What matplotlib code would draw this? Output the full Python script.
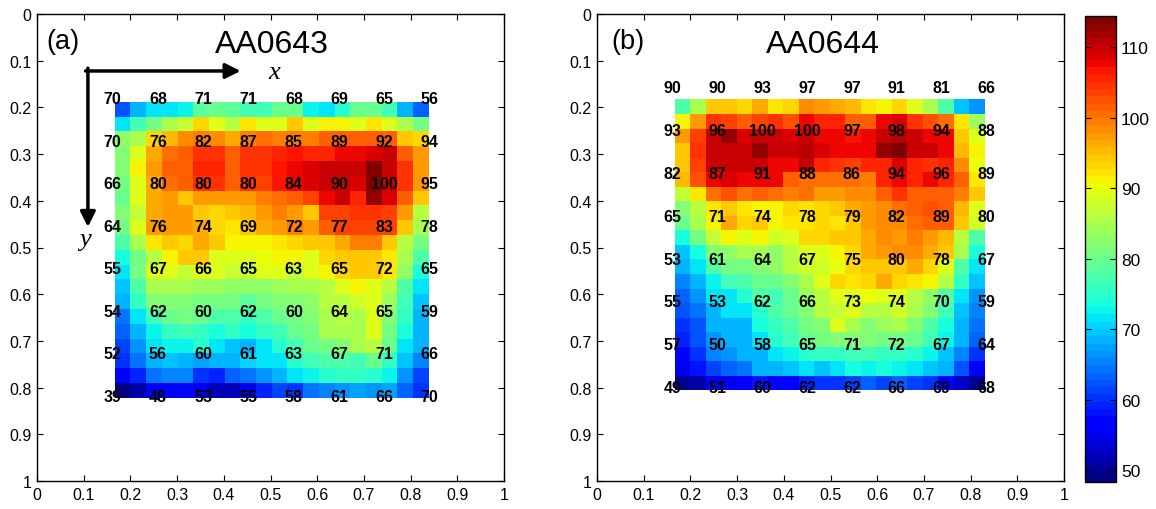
import numpy as np
import matplotlib
matplotlib.use("Agg")
import matplotlib.pyplot as plt

plt.rcParams['font.family'] = ['Liberation Sans', 'DejaVu Sans']

# ---- data: colour field (20x20) ----
grid_a = [
    [62, 68, 72, 72, 73, 79, 80, 79, 77, 77, 80, 80, 73, 72, 75, 80, 80, 77, 68, 63],
    [72, 77, 81, 85, 87, 93, 89, 86, 92, 89, 89, 94, 89, 91, 91, 89, 92, 89, 85, 81],
    [83, 85, 93, 95, 98, 99, 98, 96, 99, 100, 99, 99, 99, 101, 101, 101, 101, 101, 94, 93],
    [82, 89, 96, 100, 102, 105, 105, 102, 105, 105, 106, 107, 106, 106, 108, 108, 109, 110, 101, 97],
    [82, 91, 97, 101, 102, 106, 106, 102, 105, 105, 107, 108, 109, 110, 110, 110, 114, 110, 105, 97],
    [81, 89, 96, 100, 101, 105, 105, 102, 105, 104, 107, 108, 109, 110, 110, 109, 114, 110, 105, 97],
    [80, 89, 96, 97, 94, 97, 97, 97, 97, 99, 100, 102, 104, 108, 110, 106, 113, 109, 101, 94],
    [82, 87, 96, 97, 97, 94, 93, 94, 95, 97, 99, 97, 94, 104, 104, 105, 105, 104, 97, 86],
    [81, 89, 97, 97, 97, 96, 93, 92, 94, 96, 97, 99, 97, 102, 104, 104, 104, 104, 94, 85],
    [78, 85, 92, 94, 93, 96, 94, 91, 91, 91, 92, 93, 94, 94, 96, 99, 99, 94, 86, 81],
    [74, 81, 86, 91, 94, 94, 89, 89, 89, 90, 91, 91, 89, 93, 94, 94, 94, 92, 85, 78],
    [72, 81, 89, 89, 87, 89, 89, 87, 87, 89, 89, 87, 89, 91, 93, 94, 94, 92, 83, 74],
    [70, 78, 85, 85, 85, 84, 84, 83, 83, 83, 84, 85, 85, 86, 89, 91, 89, 86, 78, 72],
    [68, 76, 82, 82, 82, 81, 81, 81, 79, 81, 82, 82, 83, 86, 86, 88, 89, 84, 77, 70],
    [64, 72, 77, 80, 81, 80, 78, 78, 76, 78, 80, 81, 82, 85, 86, 85, 89, 82, 76, 69],
    [63, 68, 73, 76, 77, 76, 74, 76, 74, 76, 77, 80, 81, 85, 85, 85, 89, 81, 74, 68],
    [61, 66, 72, 73, 73, 75, 72, 70, 69, 72, 75, 77, 80, 81, 82, 85, 86, 80, 72, 68],
    [60, 64, 69, 70, 69, 67, 68, 68, 71, 72, 72, 75, 77, 78, 78, 77, 80, 76, 70, 65],
    [56, 59, 64, 65, 65, 60, 59, 63, 64, 66, 69, 72, 73, 75, 76, 76, 75, 73, 66, 61],
    [49, 51, 56, 56, 57, 55, 52, 52, 55, 59, 61, 60, 64, 65, 66, 67, 66, 67, 63, 60],
]

grid_b = [
    [78, 85, 94, 94, 93, 96, 92, 93, 98, 97, 96, 95, 92, 91, 93, 89, 85, 78, 70, 66],
    [91, 97, 105, 104, 102, 104, 105, 103, 108, 106, 106, 102, 101, 108, 109, 105, 103, 100, 92, 84],
    [97, 104, 110, 113, 109, 110, 110, 109, 110, 108, 108, 107, 108, 110, 111, 110, 108, 108, 94, 89],
    [94, 105, 110, 110, 110, 113, 110, 110, 111, 109, 108, 108, 108, 113, 114, 110, 110, 108, 95, 91],
    [94, 104, 110, 110, 110, 110, 108, 108, 110, 106, 105, 104, 106, 106, 109, 106, 105, 106, 98, 90],
    [95, 103, 108, 109, 108, 108, 108, 101, 100, 100, 100, 100, 99, 106, 108, 106, 108, 106, 101, 92],
    [87, 92, 100, 103, 100, 102, 100, 99, 100, 97, 97, 98, 98, 101, 105, 102, 102, 101, 99, 94],
    [82, 86, 92, 94, 92, 91, 91, 93, 92, 93, 94, 96, 97, 98, 100, 101, 103, 102, 95, 89],
    [80, 85, 91, 96, 93, 94, 91, 92, 92, 93, 92, 94, 97, 98, 98, 100, 101, 101, 94, 88],
    [74, 81, 87, 91, 89, 91, 88, 89, 93, 93, 94, 94, 96, 98, 97, 99, 97, 95, 86, 78],
    [70, 74, 82, 83, 85, 85, 83, 86, 89, 89, 91, 93, 96, 97, 98, 98, 96, 94, 85, 74],
    [69, 72, 78, 81, 81, 82, 83, 86, 88, 88, 90, 93, 94, 94, 94, 96, 93, 89, 78, 72],
    [65, 69, 73, 77, 78, 80, 80, 82, 85, 89, 93, 92, 93, 96, 93, 92, 91, 86, 76, 70],
    [63, 66, 72, 72, 75, 78, 77, 80, 84, 86, 89, 89, 90, 89, 89, 86, 83, 78, 72, 66],
    [62, 64, 68, 72, 72, 75, 78, 80, 82, 86, 87, 89, 86, 86, 88, 85, 82, 77, 70, 65],
    [60, 62, 68, 69, 69, 74, 76, 78, 81, 82, 89, 85, 82, 84, 85, 82, 78, 74, 68, 64],
    [59, 62, 66, 68, 69, 72, 75, 77, 80, 81, 82, 82, 82, 81, 81, 80, 77, 73, 68, 63],
    [57, 60, 65, 66, 68, 69, 72, 73, 75, 76, 76, 77, 77, 76, 76, 75, 73, 70, 65, 60],
    [55, 58, 61, 63, 64, 69, 69, 70, 72, 70, 72, 74, 73, 74, 73, 72, 70, 68, 62, 56],
    [50, 51, 55, 55, 56, 58, 56, 57, 59, 60, 60, 61, 63, 61, 63, 61, 60, 56, 53, 50],
]

# ---- data: annotated values (8x8) ----
labels_a = [
    [70, 68, 71, 71, 68, 69, 65, 56],
    [70, 76, 82, 87, 85, 89, 92, 94],
    [66, 80, 80, 80, 84, 90, 100, 95],
    [64, 76, 74, 69, 72, 77, 83, 78],
    [55, 67, 66, 65, 63, 65, 72, 65],
    [54, 62, 60, 62, 60, 64, 65, 59],
    [52, 56, 60, 61, 63, 67, 71, 66],
    [39, 48, 53, 55, 58, 61, 66, 70],
]
labels_b = [
    [90, 90, 93, 97, 97, 91, 81, 66],
    [93, 96, 100, 100, 97, 98, 94, 88],
    [82, 87, 91, 88, 86, 94, 96, 89],
    [65, 71, 74, 78, 79, 82, 89, 80],
    [53, 61, 64, 67, 75, 80, 78, 67],
    [55, 53, 62, 66, 73, 74, 70, 59],
    [57, 50, 58, 65, 71, 72, 67, 64],
    [49, 51, 60, 62, 62, 66, 69, 68],
]

titles = ["AA0643", "AA0644"]
panel_tags = ["(a)", "(b)"]
tick_vals = [0, 0.1, 0.2, 0.3, 0.4, 0.5, 0.6, 0.7, 0.8, 0.9, 1]
tick_text = ["0", "0.1", "0.2", "0.3", "0.4", "0.5", "0.6", "0.7", "0.8", "0.9", "1"]
cbar_ticks = [50, 60, 70, 80, 90, 100, 110]
vmin, vmax = 48.4, 114.4

cmap = plt.get_cmap('jet', 64)

fig = plt.figure(figsize=(11.56, 5.10), dpi=100)
ax_a = fig.add_axes([37 / 1156, 1 - 482 / 510, 467 / 1156, 467 / 510])
ax_b = fig.add_axes([597 / 1156, 1 - 482 / 510, 467 / 1156, 467 / 510])
cax = fig.add_axes([1085 / 1156, 1 - 482.7 / 510, 31 / 1156, 465.4 / 510])

# layout parameters per panel: heatmap box, label grid, title/tag positions
layouts = [
    dict(hx=(0.1665, 0.839), hy=(0.188, 0.822), lx=(0.162, 0.841), ly=(0.181, 0.819),
         tx=0.503, gx=0.020),
    dict(hx=(0.166, 0.830), hy=(0.183, 0.806), lx=(0.1615, 0.834), ly=(0.158, 0.800),
         tx=0.484, gx=0.031),
]

mesh = None
for ax, grid, labs, title, tag, lay in zip((ax_a, ax_b), (grid_a, grid_b), (labels_a, labels_b),
                                           titles, panel_tags, layouts):
    g = np.array(grid, dtype=float)
    ny, nx = g.shape
    xe = np.linspace(lay['hx'][0], lay['hx'][1], nx + 1)
    ye = np.linspace(lay['hy'][0], lay['hy'][1], ny + 1)
    mesh = ax.pcolormesh(xe, ye, g, cmap=cmap, vmin=vmin, vmax=vmax, shading='flat')
    L = np.array(labs)
    lxs = np.linspace(lay['lx'][0], lay['lx'][1], L.shape[1])
    lys = np.linspace(lay['ly'][0], lay['ly'][1], L.shape[0])
    for i, yy in enumerate(lys):
        for j, xx in enumerate(lxs):
            ax.text(xx, yy, str(L[i, j]), ha='center', va='center', fontsize=11.5,
                    fontweight='bold', color='black')
    ax.set_xlim(0, 1)
    ax.set_ylim(1, 0)
    ax.set_xticks(tick_vals)
    ax.set_xticklabels(tick_text)
    ax.set_yticks(tick_vals)
    ax.set_yticklabels(tick_text)
    ax.tick_params(direction='in', top=True, right=True, length=4, width=0.8,
                   labelsize=11.5, pad=4)
    for s in ax.spines.values():
        s.set_linewidth(1.0)
    ax.text(lay['tx'], 0.064, title, ha='center', va='center', fontsize=23)
    ax.text(lay['gx'], 0.057, tag, ha='left', va='center', fontsize=19.5)

# axis direction arrows in panel (a)
ax_a.annotate('', xy=(0.436, 0.122), xytext=(0.104, 0.122),
              arrowprops=dict(arrowstyle='-|>,head_length=0.9,head_width=0.45', lw=2.5,
                              color='black', shrinkA=0, shrinkB=0))
ax_a.annotate('', xy=(0.109, 0.456), xytext=(0.109, 0.116),
              arrowprops=dict(arrowstyle='-|>,head_length=0.9,head_width=0.45', lw=2.5,
                              color='black', shrinkA=0, shrinkB=0))
ax_a.text(0.508, 0.136, 'x', fontsize=19, style='italic', family='Liberation Serif',
          ha='center', va='baseline')
ax_a.text(0.104, 0.482, 'y', fontsize=19, style='italic', family='Liberation Serif',
          ha='center', va='center')

cb = fig.colorbar(mesh, cax=cax, ticks=cbar_ticks)
cb.ax.tick_params(direction='in', left=True, right=True, labelleft=False, labelright=True,
                  length=4, width=0.8, labelsize=12.5)
cb.outline.set_linewidth(1.0)

fig.savefig('out.png', dpi=100)
